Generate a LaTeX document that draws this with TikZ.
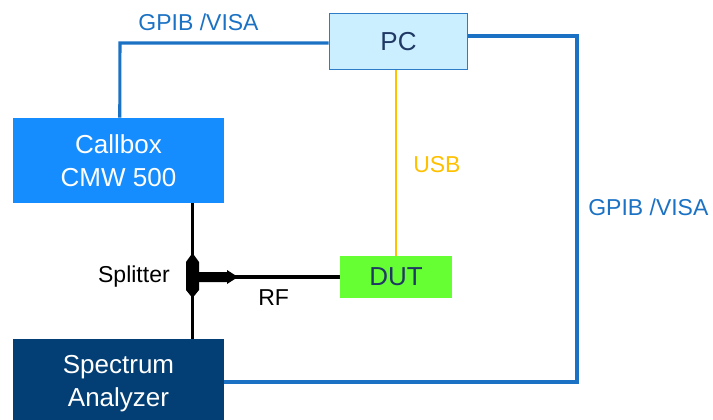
\documentclass[tikz,border=0pt]{standalone}
\usepackage{fontspec}
\setmainfont{Liberation Sans}
\usetikzlibrary{calc}
\definecolor{gpibblue}{HTML}{1B72C4}
\definecolor{callboxblue}{HTML}{168DFF}
\definecolor{pcfill}{HTML}{CCEFFF}
\definecolor{pcborder}{HTML}{2E7CC8}
\definecolor{specnavy}{HTML}{033F74}
\definecolor{dutgreen}{HTML}{66FF33}
\definecolor{darknavy}{HTML}{1F3864}
\definecolor{usbyellow}{HTML}{FFC000}
\tikzset{
  boxfont/.style={font=\fontsize{19.5pt}{24.75pt}\selectfont},
  lblfont/.style={font=\fontsize{17.25pt}{20pt}\selectfont, inner sep=0pt},
  devbox/.style={rectangle, inner sep=0pt, align=center, boxfont},
  gpib/.style={draw=gpibblue, line width=2.3pt, line join=miter},
  usb/.style={draw=usbyellow, line width=2.2pt},
  rf/.style={draw=black, line width=2.4pt},
}
\begin{document}
\begin{tikzpicture}[x=0.75pt,y=-0.75pt]
\useasboundingbox (0,0) rectangle (713,419);
% boxes
\node[devbox, fill=callboxblue, text=white, minimum width=211*0.75pt, minimum height=85*0.75pt] (callbox) at (118.5,160.5) {Callbox\\CMW 500};
\node[devbox, fill=specnavy, text=white, minimum width=211*0.75pt, minimum height=90*0.75pt] (spec) at (118.5,384) {Spectrum\\Analyzer};
\node[devbox, fill=pcfill, draw=pcborder, line width=1.2pt, text=darknavy, minimum width=138*0.75pt, minimum height=56*0.75pt] (pc) at (398.5,41.5) {PC};
\node[devbox, fill=dutgreen, text=darknavy, minimum width=112*0.75pt, minimum height=42*0.75pt] (dut) at (396,277) {DUT};
% coordinates
\coordinate (spl) at (192.5,277);
\coordinate (r1) at (577,36);
\coordinate (r2) at (577,382);
\coordinate (l1) at (120,43);
% GPIB links
\draw[gpib] (callbox.south west |- callbox.north) ++(107,0) -- (l1) -- (l1 -| pc.west);
\draw[gpib] ($(pc.east)+(0,-5.5)$) -- (r1) -- (r2) -- (r2 -| spec.east);
% USB
\draw[usb] (pc.south -| dut.north) -- (dut.north);
% RF
\draw[rf] (callbox.south -| spl) -- (spec.north -| spl);
\draw[rf] (spl) -- (dut.west);
% splitter
\fill[black] (192.5,253) -- (199,262) -- (199,290) -- (192.5,298) -- (186,290) -- (186,262) -- cycle;
\fill[black] (198,272) -- (227,272) -- (227,270) -- (238,277) -- (227,284) -- (227,282) -- (198,282) -- cycle;
% labels
\node[lblfont, text=gpibblue, anchor=base] (lgpib1) at (198.5,30) {GPIB /VISA};
\node[lblfont, text=gpibblue, anchor=base west] (lgpib2) at (588,215) {GPIB /VISA};
\node[lblfont, text=usbyellow, anchor=base west] (lusb) at (413,172) {USB};
\node[lblfont, text=black, anchor=base east] (lspl) at (170,282) {Splitter};
\node[lblfont, text=black, anchor=base west] (lrf) at (258,305) {RF};
\end{tikzpicture}
\end{document}
